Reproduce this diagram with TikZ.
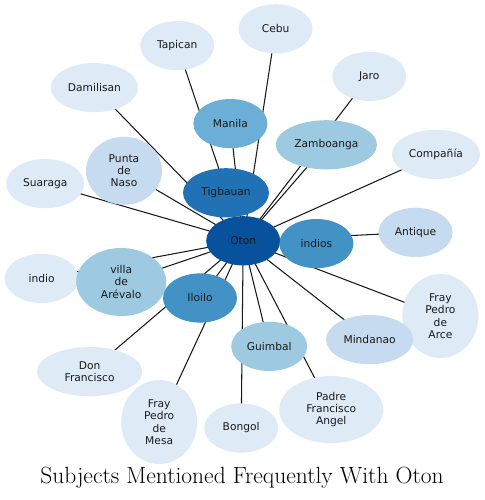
\documentclass[tikz,border=0pt]{standalone}
\usepackage{fontspec}
\newfontfamily\nodefont{DejaVu Sans}
\usetikzlibrary{shapes.geometric,backgrounds}

\definecolor{blueA}{HTML}{DEEBF7}
\definecolor{blueB}{HTML}{C6DBEF}
\definecolor{blueC}{HTML}{9ECAE1}
\definecolor{blueD}{HTML}{6BAED6}
\definecolor{blueE}{HTML}{4292C6}
\definecolor{blueF}{HTML}{2171B5}
\definecolor{blueG}{HTML}{08519C}

\tikzset{
  ent/.style={ellipse,inner sep=0pt,minimum width=1.85cm,minimum height=1.23cm,
    align=center,text=black!90,font=\nodefont\fontsize{7.6}{8.8}\selectfont},
  link/.style={line width=0.75pt,black!90}
}

\begin{document}
\begin{tikzpicture}
\useasboundingbox (0,0) rectangle (12.125,12.5);
% centre node
\node[ent,fill=blueG] (oton) at (6.08,6.48){Oton};
% upper half
\node[ent,fill=blueF,minimum width=2.15cm] (tigbauan) at (5.65,7.68){Tigbauan};
\node[ent,fill=blueD] (manila) at (5.76,9.41){Manila};
\node[ent,fill=blueA] (tapican) at (4.43,11.36){Tapican};
\node[ent,fill=blueA] (cebu) at (6.89,11.78){Cebu};
\node[ent,fill=blueA,minimum width=2.18cm] (damilisan) at (2.36,10.31){Damilisan};
\node[ent,fill=blueA] (jaro) at (9.23,10.59){Jaro};
\node[ent,fill=blueC,minimum width=2.53cm] (zamboanga) at (8.16,8.88){Zamboanga};
\node[ent,fill=blueA,minimum width=2.2cm] (compania) at (10.90,8.64){Compañía};
\node[ent,fill=blueB,minimum width=1.9cm,minimum height=1.7cm] (puntanaso) at (3.10,8.23){Punta\\de\\Naso};
\node[ent,fill=blueA,minimum width=1.95cm] (suaraga) at (1.13,7.91){Suaraga};
\node[ent,fill=blueE] (indios) at (7.91,6.41){indios};
\node[ent,fill=blueB] (antique) at (10.39,6.69){Antique};
% lower half
\node[ent,fill=blueA] (indio) at (1.04,5.54){indio};
\node[ent,fill=blueC,minimum width=2.25cm,minimum height=1.7cm] (arevalo) at (3.03,5.45){villa\\de\\Arévalo};
\node[ent,fill=blueE] (iloilo) at (5.00,5.05){Iloilo};
\node[ent,fill=blueA,minimum width=1.9cm,minimum height=2.1cm] (arce) at (11.01,4.60){Fray\\Pedro\\de\\Arce};
\node[ent,fill=blueB,minimum width=2.18cm] (mindanao) at (9.24,4.01){Mindanao};
\node[ent,fill=blueC,minimum width=1.9cm] (guimbal) at (6.73,3.84){Guimbal};
\node[ent,fill=blueA,minimum width=2.63cm] (donfrancisco) at (2.24,3.21){Don\\Francisco};
\node[ent,fill=blueA,minimum width=1.9cm,minimum height=2.1cm] (mesa) at (3.98,1.95){Fray\\Pedro\\de\\Mesa};
\node[ent,fill=blueA] (bongol) at (6.03,1.80){Bongol};
\node[ent,fill=blueA,minimum width=2.6cm,minimum height=1.68cm] (padre) at (8.28,2.26){Padre\\Francisco\\Angel};
\node[font=\fontsize{16.7}{19}\selectfont] (title) at (6.05,0.56){Subjects Mentioned Frequently With Oton};
% links behind the ellipses
\begin{pgfonlayer}{background}
\foreach \n in {tigbauan,manila,tapican,cebu,damilisan,jaro,zamboanga,compania,puntanaso,suaraga,indios,antique,
  indio,arevalo,iloilo,arce,mindanao,guimbal,donfrancisco,mesa,bongol,padre}
  \draw[link] (oton.center) -- (\n.center);
\end{pgfonlayer}
\end{tikzpicture}
\end{document}
